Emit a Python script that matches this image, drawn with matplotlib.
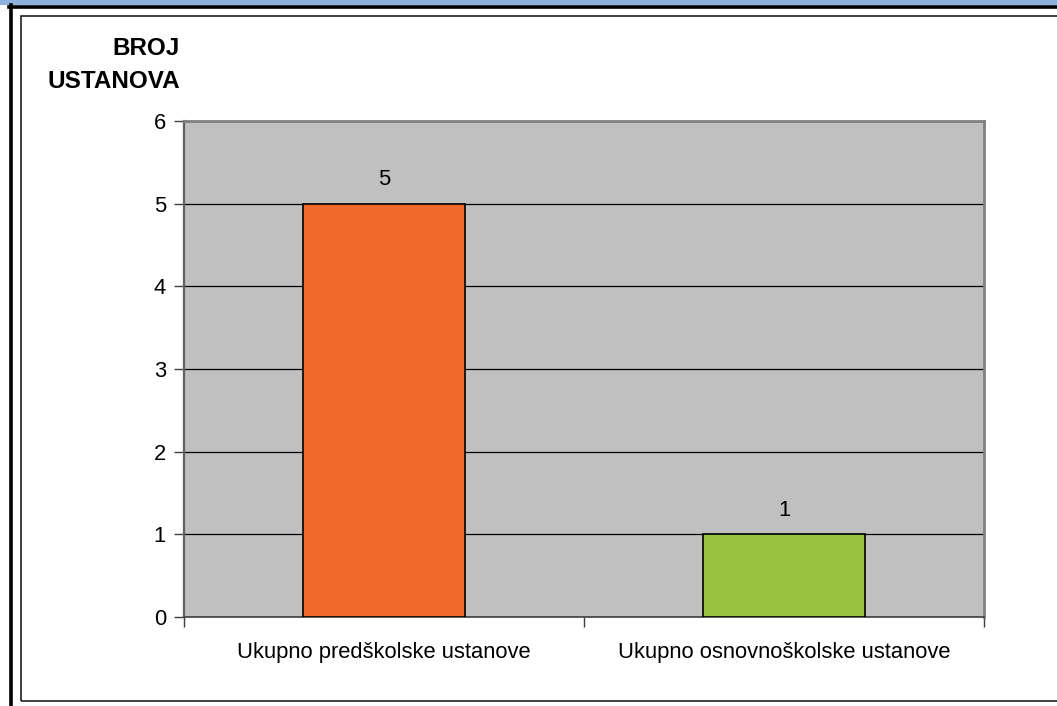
import matplotlib
matplotlib.use("Agg")
import matplotlib.pyplot as plt
from matplotlib.patches import Rectangle
from matplotlib.lines import Line2D

plt.rcParams['font.family'] = ['Liberation Sans', 'DejaVu Sans']

# data
categories = ['Ukupno predškolske ustanove', 'Ukupno osnovnoškolske ustanove']
counts = [5, 1]
bar_colors = ['#F2692C', '#99C33F']
y_title = 'BROJ\nUSTANOVA'

W, H = 1057, 706
fig = plt.figure(figsize=(W / 100, H / 100), dpi=100)
fig.patch.set_facecolor('white')


def fx(px):
    return px / W


def fy(py):
    return 1 - py / H


# page decoration: blue band, black page border, inner chart frame
fig.add_artist(Rectangle((0, fy(5)), 1, 5 / H, transform=fig.transFigure,
                         facecolor='#8EB0DD', edgecolor='none'))
fig.add_artist(Line2D([fx(9), 1], [fy(6.5), fy(6.5)], transform=fig.transFigure,
                      color='black', lw=2.6))
fig.add_artist(Line2D([fx(10.5), fx(10.5)], [fy(5), 0], transform=fig.transFigure,
                      color='black', lw=2.6))
fig.add_artist(Rectangle((fx(21), fy(701)), fx(1100) - fx(21), (701 - 16) / H,
                         transform=fig.transFigure, facecolor='none',
                         edgecolor='#202020', lw=1.2))

# plot area
ax = fig.add_axes([fx(184), fy(617), fx(984) - fx(184), (617 - 121) / H])
ax.set_facecolor('#C0C0C0')

x = range(len(categories))
bars = ax.bar(x, counts, width=0.405, color=bar_colors, edgecolor='black',
              linewidth=1.2, zorder=3)
for xi, v in zip(x, counts):
    ax.text(xi, v + 0.16, str(v), ha='center', va='bottom', fontsize=15.8)

ax.set_xlim(-0.5, len(categories) - 0.5)
ax.set_ylim(0, 6)
ax.set_yticks(range(0, 7))
ax.yaxis.grid(True, color='black', lw=0.9, zorder=1)
ax.set_axisbelow(True)

# category ticks at the boundaries, labels in the middle
ax.set_xticks([-0.5, 0.5, 1.5])
ax.set_xticklabels([])
ax.set_xticks(list(x), minor=True)
ax.set_xticklabels(categories, minor=True, fontsize=15.8)
ax.tick_params(axis='x', which='minor', length=0, pad=18)
ax.tick_params(axis='x', which='major', length=7, width=1, color='#404040')
ax.tick_params(axis='y', length=7, width=1, color='#404040', labelsize=15.8, pad=6)

for side in ['top', 'right']:
    ax.spines[side].set_color('#808080')
    ax.spines[side].set_linewidth(2)
ax.spines['left'].set_color('#606060')
ax.spines['left'].set_linewidth(1.6)
ax.spines['bottom'].set_color('#404040')
ax.spines['bottom'].set_linewidth(1.2)

fig.text(fx(180), fy(65), y_title, ha='right', va='center', fontsize=17.5,
         fontweight='bold', linespacing=1.55)

fig.savefig('out.png', dpi=100)
